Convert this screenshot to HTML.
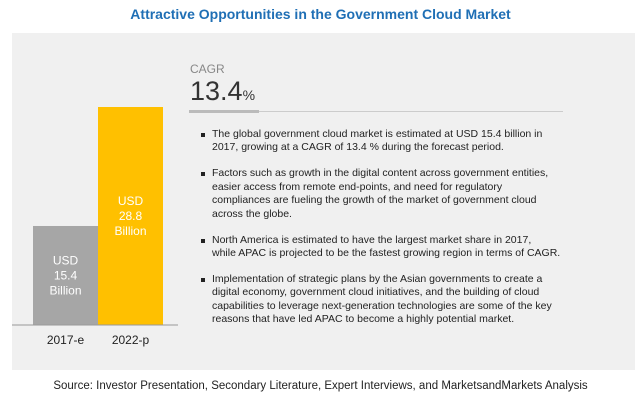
<!DOCTYPE html>
<html><head><meta charset="utf-8"><style>
body{margin:0;width:641px;height:406px;background:#fff;font-family:"Liberation Sans",sans-serif;position:relative;overflow:hidden}
.abs{position:absolute}
#title{left:0;width:641px;top:6px;text-align:center;color:#1f6fb5;font-weight:bold;font-size:14px}
#panel{left:12px;top:33px;width:623px;height:337px;background:#f0f0f0}
ul{margin:0;padding:0;list-style:none}
li{position:relative;font-size:10.5px;line-height:13.4px;color:#222;margin-bottom:12.6px;white-space:nowrap}
li:before{content:"";position:absolute;left:-11px;top:5px;width:4px;height:4px;background:#222}
#src{left:0;width:641px;top:380px;text-align:center;font-size:11.5px;color:#222}
</style></head><body>
<div id="title" class="abs">Attractive Opportunities in the Government Cloud Market</div>
<div id="panel" class="abs"></div>
<svg class="abs" style="left:0;top:0" width="641" height="406">
<g id="bars"></g>
<line x1="12" y1="325" x2="178" y2="325" stroke="#999" stroke-width="1"/>
</svg>
<div class="abs" style="left:190px;top:62px;font-size:12px;color:#888">CAGR</div>
<div class="abs" style="left:190px;top:76px;font-size:27px;color:#333">13.4<span style="font-size:14px">%</span></div>
<div class="abs" style="left:189px;top:110px;width:70px;height:3px;background:#bbb"></div>
<div class="abs" style="left:259px;top:111px;width:304px;height:1px;background:#ccc"></div>
<ul class="abs" style="left:212px;top:128px;width:400px">
<li>The global government cloud market is estimated at USD 15.4 billion in<br>2017, growing at a CAGR of 13.4 % during the forecast period.</li>
<li>Factors such as growth in the digital content across government entities,<br>easier access from remote end-points, and need for regulatory<br>compliances are fueling the growth of the market of government cloud<br>across the globe.</li>
<li>North America is estimated to have the largest market share in 2017,<br>while APAC is projected to be the fastest growing region in terms of CAGR.</li>
<li>Implementation of strategic plans by the Asian governments to create a<br>digital economy, government cloud initiatives, and the building of cloud<br>capabilities to leverage next-generation technologies are some of the key<br>reasons that have led APAC to become a highly potential market.</li>
</ul>
<div id="src" class="abs">Source: Investor Presentation, Secondary Literature, Expert Interviews, and MarketsandMarkets Analysis</div>
<script>
const categories=["2017-e","2022-p"];
const values=[15.4,28.8];
const colors=["#a6a6a6","#ffc000"];
const ns="http://www.w3.org/2000/svg";
const g=document.getElementById("bars");
const base=325, domainMin=4.25, scale=218/(28.8-4.25);
function y(v){return base-(v-domainMin)*scale;}
categories.forEach((c,i)=>{
  const x=33+i*65;
  const top=y(values[i]);
  const r=document.createElementNS(ns,"rect");
  r.setAttribute("x",x);r.setAttribute("y",top);r.setAttribute("width",65);r.setAttribute("height",base-top);r.setAttribute("fill",colors[i]);
  
  
  g.appendChild(r);
  const t=document.createElementNS(ns,"text");
  t.setAttribute("text-anchor","middle");t.setAttribute("fill","#fff");t.setAttribute("font-size","12");
  const mid=(top+base)/2;
  ["USD",values[i].toFixed(1),"Billion"].forEach((s,k)=>{const sp=document.createElementNS(ns,"tspan");sp.setAttribute("x",x+32.5);sp.setAttribute("y",mid-11+k*15);sp.textContent=s;t.appendChild(sp);});
  
  
  g.appendChild(t);
  const l=document.createElementNS(ns,"text");
  l.setAttribute("x",x+32.5);l.setAttribute("y",344);l.setAttribute("text-anchor","middle");l.setAttribute("font-size","12");l.setAttribute("fill","#222");
  l.textContent=c;
  
  
  g.appendChild(l);
});
</script>
</body></html>
